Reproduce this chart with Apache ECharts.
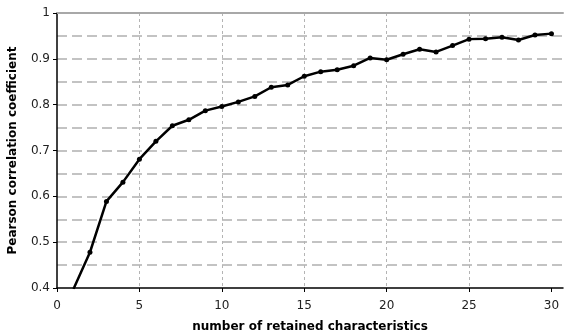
<!DOCTYPE html>
<html>
<head>
<meta charset="utf-8">
<script src="https://cdn.jsdelivr.net/npm/echarts@6/dist/echarts.min.js"></script>
<style>
  html, body { margin: 0; padding: 0; background: #fff; }
  #chart { width: 567px; height: 335px; }
</style>
</head>
<body>
<div id="chart"></div>
<script>
// number of retained characteristics
var retained = [1, 2, 3, 4, 5, 6, 7, 8, 9, 10, 11, 12, 13, 14, 15, 16, 17, 18, 19, 20, 21, 22, 23, 24, 25, 26, 27, 28, 29, 30];
// Pearson correlation coefficient
var pearson = [0.398, 0.478, 0.589, 0.631, 0.681, 0.720, 0.754, 0.767, 0.787, 0.796, 0.806, 0.818, 0.838, 0.843, 0.862,
               0.872, 0.876, 0.885, 0.902, 0.898, 0.910, 0.921, 0.915, 0.929, 0.943, 0.944, 0.947, 0.941, 0.952, 0.955];
// tick labels
var xTicks = [0, 5, 10, 15, 20, 25, 30];
var yTicks = [0.4, 0.5, 0.6, 0.7, 0.8, 0.9, 1];

var font = 'DejaVu Sans, Verdana, sans-serif';
var chart = echarts.init(document.getElementById('chart'));

chart.setOption({
    animation: false,
    grid: { left: 57, right: 4, top: 13, bottom: 47, containLabel: false, outerBoundsMode: 'none' },
    xAxis: [{
        type: 'value',
        min: 0,
        max: 30.7,
        interval: 5,
        name: 'number of retained characteristics',
        nameLocation: 'middle',
        nameGap: 33,
        nameTextStyle: { fontFamily: font, fontSize: 12, fontWeight: 'bold', color: '#000' },
        axisLine: { onZero: false, lineStyle: { color: '#000', width: 1.5 } },
        axisTick: { show: true, customValues: xTicks, length: 4, inside: false, lineStyle: { color: '#000' } },
        axisLabel: { customValues: xTicks, fontFamily: font, fontSize: 12, color: '#222', margin: 12 },
        splitLine: {
            show: true, showMinLine: false, showMaxLine: false,
            lineStyle: { color: '#b4b4b4', type: [3, 3], width: 1 }
        }
    }, {
        // top border of the plot
        type: 'value',
        position: 'top',
        min: 0,
        max: 30.7,
        axisLine: { show: true, lineStyle: { color: '#a8a8a8', width: 2 } },
        axisTick: { show: false },
        axisLabel: { show: false },
        splitLine: { show: false }
    }],
    yAxis: [{
        type: 'value',
        min: 0.4,
        max: 1,
        interval: 0.1,
        name: 'Pearson correlation coefficient',
        nameLocation: 'middle',
        nameGap: 38,
        nameTextStyle: { fontFamily: font, fontSize: 12, fontWeight: 'bold', color: '#000' },
        axisLine: { show: true, onZero: false, lineStyle: { color: '#000', width: 1.5 } },
        axisTick: { show: true, customValues: yTicks, length: 4, lineStyle: { color: '#000' } },
        axisLabel: { customValues: yTicks, fontFamily: font, fontSize: 12, color: '#222', margin: 7 },
        splitLine: { show: false }
    }, {
        // dashed gridlines every 0.05
        type: 'value',
        position: 'left',
        min: 0.4,
        max: 1,
        interval: 0.05,
        axisLine: { show: false },
        axisTick: { show: false },
        axisLabel: { show: false },
        splitLine: {
            show: true, showMinLine: false, showMaxLine: false,
            lineStyle: { color: '#b0b0b0', type: [10, 5], width: 1.5 }
        }
    }],
    series: [{
        type: 'line',
        xAxisIndex: 0,
        yAxisIndex: 0,
        data: retained.map(function (x, i) { return [x, pearson[i]]; }),
        symbol: 'circle',
        symbolSize: 5,
        clip: true,
        z: 5,
        lineStyle: { color: '#000', width: 2.5 },
        itemStyle: { color: '#000' }
    }]
});
</script>
</body>
</html>
